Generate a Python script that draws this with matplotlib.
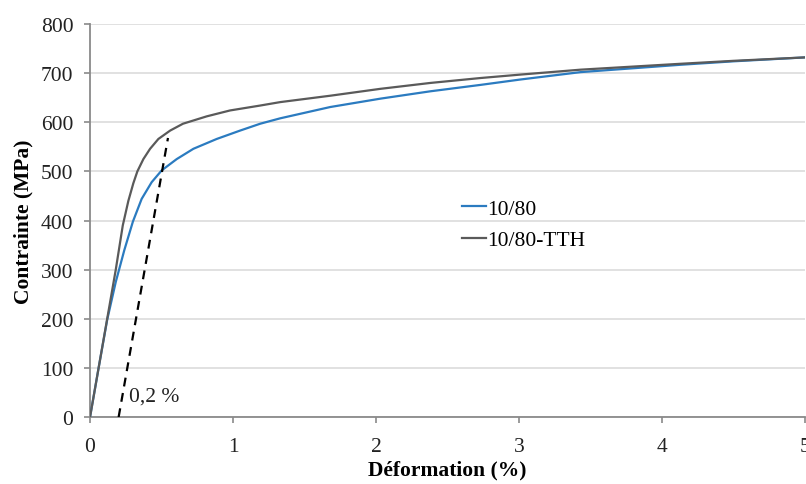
import numpy as np
import matplotlib.pyplot as plt

plt.rcParams['font.family'] = ['Liberation Serif', 'DejaVu Serif']

# Stress-strain curves (strain in %, stress in MPa)
x_tth = [0, 0.06, 0.12, 0.18, 0.229, 0.268, 0.303, 0.331, 0.373, 0.42, 0.478,
         0.56, 0.65, 0.816, 0.979, 1.19, 1.33, 1.68, 2.03, 2.38, 2.73, 3.01,
         3.43, 4.13, 4.5, 5.0]
y_tth = [0, 100, 200, 300, 390, 440, 476, 500, 525, 546, 566,
         583, 597, 612, 624, 634, 641, 654, 668, 680, 690, 697,
         707, 719, 725, 732]

x_ref = [0, 0.06, 0.12, 0.18, 0.24, 0.30, 0.361, 0.431, 0.501, 0.606, 0.723,
         0.886, 1.049, 1.19, 1.33, 1.68, 2.03, 2.38, 2.73, 3.01, 3.43, 4.13,
         4.5, 5.0]
y_ref = [0, 100, 198, 275, 340, 398, 444, 478, 502, 525, 546,
         566, 583, 597, 608, 631, 648, 663, 676, 687, 702, 717,
         724, 732]

# 0.2 % offset line
x_offset = [0.20, 0.545]
y_offset = [0, 568]

fig = plt.figure(figsize=(8.06, 4.85), dpi=100)
ax = fig.add_axes([0.1117, 0.138, 0.8871, 0.8105])

ax.plot(x_ref, y_ref, color='#2b7bc0', linewidth=1.6, label='10/80', zorder=3)
ax.plot(x_tth, y_tth, color='#5a5a5a', linewidth=1.6, label='10/80-TTH', zorder=3)
ax.plot(x_offset, y_offset, color='black', linewidth=1.6, linestyle=(0, (4, 3)), zorder=4)

ax.text(0.27, 43, '0,2 %', fontsize=15.5, va='center', ha='left', color='#222222')

ax.set_xlim(0, 5)
ax.set_ylim(0, 800)
ax.set_xticks([0, 1, 2, 3, 4, 5])
ax.set_yticks(np.arange(0, 801, 100))

ax.yaxis.grid(True, color='#d9d9d9', linewidth=1.1)
ax.set_axisbelow(True)

for side in ['top', 'right']:
    ax.spines[side].set_visible(False)
for side in ['left', 'bottom']:
    ax.spines[side].set_color('#8a8a8a')
    ax.spines[side].set_linewidth(1.3)

ax.tick_params(axis='both', direction='out', length=4, width=1.2, color='#8a8a8a',
               labelsize=15.5, labelcolor='#222222')
ax.tick_params(axis='y', pad=8)
ax.tick_params(axis='x', pad=10)

ax.set_xlabel('Déformation (%)', fontsize=15.5, fontweight='bold', labelpad=3)
ax.set_ylabel('Contrainte (MPa)', fontsize=15.5, fontweight='bold', labelpad=5)

ax.legend(loc='upper left', bbox_to_anchor=(0.52, 0.556), frameon=False,
          fontsize=15.5, handlelength=1.1, handletextpad=0.1, labelspacing=0.55,
          borderpad=0, borderaxespad=0)

plt.savefig('out.png', dpi=100)
